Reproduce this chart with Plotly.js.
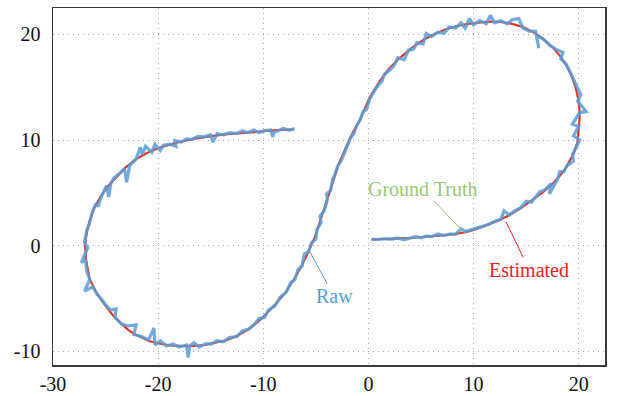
<!DOCTYPE html>
<html>
<head>
<meta charset="utf-8">
<script src="https://cdn.plot.ly/plotly-3.0.1.min.js"></script>
<style>html,body{margin:0;padding:0;background:#fff;}#chart{width:623px;height:396px;}</style>
</head>
<body>
<div id="chart"></div>
<script>
// Estimated trajectory (red)
const estX = [-7.2,-8.5,-10.3,-12.0,-13.5,-15.0,-16.7,-18.3,-19.8,-21.0,-22.1,-23.1,-24.0,-24.8,-25.5,-26.1,-26.5,-26.8,-26.95,-26.85,-26.5,-25.9,-25.3,-24.3,-23.5,-22.7,-21.8,-20.8,-19.8,-18.7,-17.6,-16.6,-15.6,-14.5,-13.5,-12.4,-11.3,-10.5,-9.7,-8.7,-7.8,-7.1,-6.5,-6.0,-5.6,-5.1,-4.6,-4.0,-3.4,-2.8,-2.1,-1.5,-0.8,0.1,1.1,2.0,3.0,4.1,5.2,6.3,7.4,8.6,9.9,11.2,12.5,13.6,14.7,15.7,16.6,17.5,18.2,18.8,19.3,19.7,19.95,20.08,20.08,20.0,19.9,19.6,19.2,18.8,18.2,17.5,16.6,15.6,14.5,13.4,12.3,11.2,10.2,9.3,8.2,7.1,5.5,3.9,2.2,0.3];
const estY = [11.0,10.95,10.8,10.7,10.55,10.35,10.1,9.75,9.3,8.8,8.2,7.4,6.5,5.6,4.6,3.5,2.4,1.2,0.0,-1.4,-3.2,-4.4,-5.3,-6.6,-7.4,-8.1,-8.6,-9.05,-9.3,-9.45,-9.5,-9.5,-9.4,-9.2,-8.95,-8.5,-7.85,-7.2,-6.45,-5.4,-4.3,-3.2,-2.2,-1.2,-0.3,0.8,2.3,4.2,6.1,7.8,9.4,10.7,11.9,14.0,15.6,16.8,17.8,18.7,19.45,20.05,20.5,20.85,21.05,21.2,21.2,21.0,20.7,20.2,19.6,18.8,18.0,17.1,16.1,15.0,13.9,12.8,12.0,11.0,9.9,8.9,8.1,7.4,6.6,5.85,5.05,4.3,3.55,2.9,2.35,1.93,1.55,1.3,1.1,0.98,0.83,0.73,0.65,0.58];

// Ground truth (green), almost entirely hidden under the estimate
const gtX = estX;
const gtY = estY;

// Raw measurements (blue, noisy)
const rawX = [-7.0,-7.6,-8.1,-8.6,-9.0,-9.1,-9.3,-9.9,-10.4,-10.9,-11.5,-12.0,-12.6,-13.2,-13.8,-14.4,-14.8,-15.0,-15.6,-16.2,-16.8,-17.3,-17.8,-18.4,-18.3,-18.9,-19.5,-19.8,-20.3,-20.6,-21.2,-21.5,-21.7,-22.1,-22.7,-23.0,-23.2,-23.7,-24.2,-24.5,-24.7,-24.9,-25.5,-25.7,-25.9,-26.3,-26.5,-26.8,-27.0,-26.7,-27.3,-26.9,-26.8,-26.5,-27.0,-26.2,-25.8,-25.2,-25.0,-24.5,-24.0,-24.1,-23.5,-22.9,-22.1,-22.3,-21.6,-20.9,-20.4,-20.3,-19.8,-19.2,-18.6,-18.0,-17.3,-17.15,-17.0,-16.6,-16.1,-15.5,-14.9,-14.4,-13.8,-13.2,-12.5,-12.0,-11.4,-10.9,-10.4,-9.9,-9.5,-8.9,-8.4,-7.8,-7.4,-7.0,-6.7,-6.3,-6.1,-5.7,-5.4,-5.0,-4.9,-4.5,-4.6,-4.2,-3.9,-4.0,-3.6,-3.4,-3.2,-2.9,-2.6,-2.2,-2.0,-1.7,-1.4,-1.1,-0.8,-0.5,-0.2,0.1,0.4,0.8,1.3,1.5,2.0,2.4,2.8,3.4,3.8,4.3,4.6,5.2,5.5,6.0,6.6,7.2,7.7,8.3,8.8,9.2,9.6,10.0,10.6,11.2,11.6,12.0,12.6,13.2,13.7,14.3,14.7,15.3,15.9,16.2,16.0,16.7,17.2,17.8,18.5,18.3,18.8,19.2,19.6,19.9,20.2,19.9,20.7,20.1,19.4,20.0,19.5,20.1,19.8,19.4,19.5,18.9,18.6,18.2,18.0,17.2,17.4,16.8,16.3,15.5,15.0,14.5,13.9,13.4,12.9,12.6,12.0,11.4,10.8,10.2,9.6,9.2,8.8,8.3,7.7,7.2,6.6,6.0,5.5,5.0,4.5,3.9,3.4,2.8,2.2,1.5,0.9,0.3];
const rawY = [11.05,10.95,11.1,10.85,10.7,10.3,10.95,10.9,10.7,10.95,10.7,10.85,10.6,10.7,10.5,10.6,9.8,10.5,10.3,10.35,10.05,10.1,9.8,9.95,9.4,9.6,9.5,9.0,9.6,8.85,9.4,8.6,9.3,8.2,7.6,6.0,7.3,6.8,6.4,5.9,4.6,5.7,4.4,3.7,4.0,3.1,2.2,1.4,0.3,-0.2,-1.6,-1.3,-2.4,-3.2,-4.3,-3.9,-4.6,-5.3,-5.6,-6.1,-6.0,-6.8,-7.4,-7.6,-7.5,-8.4,-8.6,-8.9,-7.8,-9.4,-9.0,-9.5,-9.3,-9.6,-9.4,-10.6,-9.5,-9.2,-9.6,-9.3,-9.3,-9.0,-9.1,-8.7,-8.6,-8.1,-7.9,-7.5,-6.9,-6.8,-6.1,-5.7,-4.9,-4.4,-3.5,-3.2,-2.3,-1.9,-0.8,-0.6,0.3,0.6,1.5,2.2,2.8,3.3,4.4,4.9,5.2,6.3,6.7,7.6,8.0,9.0,9.5,10.2,10.6,11.4,11.9,12.7,12.9,13.8,14.4,15.0,15.6,16.2,16.6,17.0,17.8,17.6,18.5,18.6,19.2,19.1,20.1,19.8,20.2,20.1,20.7,20.6,21.1,20.6,21.5,20.9,21.3,21.0,21.8,21.1,21.3,21.0,21.4,21.5,20.6,20.3,20.3,18.7,19.9,19.5,19.0,18.6,18.3,17.7,17.2,16.4,15.5,14.9,14.3,13.7,12.7,12.6,11.5,11.3,10.4,10.0,9.4,8.6,8.0,7.6,7.0,7.0,6.3,4.9,5.9,5.3,5.1,4.1,4.2,3.6,3.3,2.9,3.3,2.5,2.3,2.0,1.8,1.6,1.45,1.35,1.6,1.1,1.1,0.95,1.1,0.85,0.9,0.75,0.85,0.7,0.55,0.7,0.62,0.65,0.58,0.6];

const xTicks = [-30,-20,-10,0,10,20];
const yTicks = [-10,0,10,20];

const serif = 'Liberation Serif, Times New Roman, serif';

const traces = [
  {x: gtX, y: gtY, mode: 'lines', name: 'Ground Truth', line: {color: '#9cc97a', width: 2}},
  {x: estX, y: estY, mode: 'lines', name: 'Estimated', line: {color: '#e8302a', width: 2}},
  {x: rawX, y: rawY, mode: 'lines', name: 'Raw', opacity: 0.85, line: {color: '#5b9bd5', width: 3.2}}
];

const axisCommon = {
  showline: true, mirror: true, linecolor: '#3a3a3a', linewidth: 1.5,
  showgrid: true, gridcolor: '#a8a8a8', griddash: '1px,4px', gridwidth: 1,
  zeroline: false, ticks: '', tickfont: {family: serif, size: 20, color: '#111'}
};

const layout = {
  width: 623, height: 396,
  margin: {l: 53, r: 18, t: 8, b: 31},
  paper_bgcolor: '#ffffff', plot_bgcolor: '#ffffff',
  showlegend: false,
  xaxis: Object.assign({}, axisCommon, {range: [-30, 22.5], tickvals: xTicks, ticktext: xTicks.map(String), ticklabelstandoff: 0}),
  yaxis: Object.assign({}, axisCommon, {range: [-11.3, 22.5], tickvals: yTicks, ticktext: yTicks.map(String), ticklabelstandoff: 7}),
  annotations: [
    {x: 9.1, y: 1.24, text: 'Ground Truth', showarrow: true, arrowhead: 0, arrowwidth: 1, arrowcolor: '#9cc97a', ax: -42, ay: -44, font: {family: serif, size: 20, color: '#9cc97a'}},
    {x: 13.1, y: 2.24, text: 'Estimated', showarrow: true, arrowhead: 0, arrowwidth: 1, arrowcolor: '#e8202a', ax: 23, ay: 48, font: {family: serif, size: 20, color: '#ee1c1c'}},
    {x: -5.65, y: -0.43, text: 'Raw', showarrow: true, arrowhead: 0, arrowwidth: 1, arrowcolor: '#5b9bd5', ax: 25, ay: 46, font: {family: serif, size: 20, color: '#5b9bd5'}}
  ]
};

Plotly.newPlot('chart', traces, layout, {displayModeBar: false, staticPlot: true});
</script>
</body>
</html>
